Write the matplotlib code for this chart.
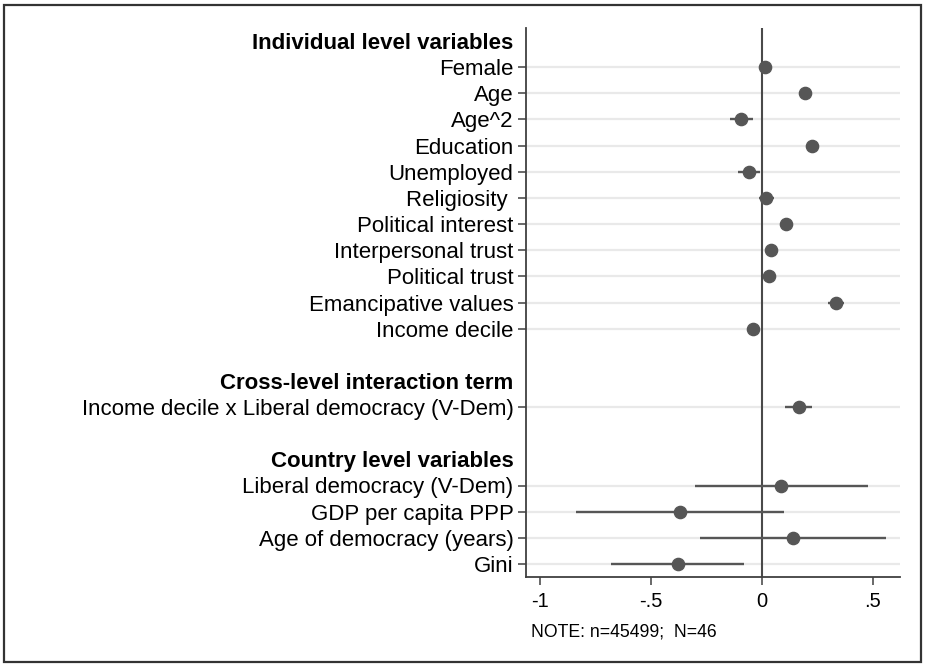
import matplotlib
matplotlib.use("Agg")
import matplotlib.pyplot as plt
from matplotlib.patches import Rectangle
import matplotlib.transforms as mtransforms

plt.rcParams['font.family'] = ['Liberation Sans', 'DejaVu Sans']

# ---- data ----
headers = ["Individual level variables",
           "Cross-level interaction term",
           "Country level variables"]

individual_labels = ["Female", "Age", "Age^2", "Education", "Unemployed",
                     "Religiosity ", "Political interest", "Interpersonal trust",
                     "Political trust", "Emancipative values", "Income decile"]
individual_coef = [0.013, 0.195, -0.094, 0.227, -0.059, 0.018, 0.108, 0.039, 0.033, 0.335, -0.041]
individual_lo = [-0.005, 0.170, -0.146, 0.202, -0.108, -0.015, 0.088, 0.020, 0.014, 0.299, -0.060]
individual_hi = [0.031, 0.220, -0.041, 0.252, -0.008, 0.055, 0.128, 0.058, 0.052, 0.371, -0.022]

cross_labels = ["Income decile x Liberal democracy (V-Dem)"]
cross_coef = [0.167]
cross_lo = [0.104]
cross_hi = [0.227]

country_labels = ["Liberal democracy (V-Dem)", "GDP per capita PPP",
                  "Age of democracy (years)", "Gini"]
country_coef = [0.088, -0.369, 0.139, -0.378]
country_lo = [-0.300, -0.839, -0.279, -0.680]
country_hi = [0.479, 0.098, 0.558, -0.081]

xtick_values = [-1, -0.5, 0, 0.5]
xtick_labels = ["-1", "-.5", "0", ".5"]
note = "NOTE: n=45499;  N=46"

groups = [
    (headers[0], individual_labels, individual_coef, individual_lo, individual_hi),
    (headers[1], cross_labels, cross_coef, cross_lo, cross_hi),
    (headers[2], country_labels, country_coef, country_lo, country_hi),
]

# ---- build rows ----
tick_pos, tick_lab, is_header = [], [], []
pts_y, pts_x, pts_lo, pts_hi = [], [], [], []
row = 0
for gi, (h, labs, c, lo, hi) in enumerate(groups):
    if gi > 0:
        row += 1  # blank spacer row
    tick_pos.append(row); tick_lab.append(h); is_header.append(True)
    row += 1
    for l, cv, lv, hv in zip(labs, c, lo, hi):
        tick_pos.append(row); tick_lab.append(l); is_header.append(False)
        pts_y.append(row); pts_x.append(cv); pts_lo.append(lv); pts_hi.append(hv)
        row += 1
nrows = row

W, H = 925, 664
fig = plt.figure(figsize=(W / 100, H / 100), dpi=100)
ax = fig.add_axes([526 / W, 1 - 577 / H, (900 - 526) / W, (577 - 28) / H])

dark = "#565656"
for y in pts_y:
    ax.axhline(y, color="#e9e9e9", lw=1.6, zorder=0)
ax.axvline(0, color="#4a4a4a", lw=1.5, zorder=1)
ax.hlines(pts_y, pts_lo, pts_hi, color=dark, lw=1.7, zorder=2)
ax.plot(pts_x, pts_y, 'o', color=dark, ms=8.8, mec=dark, zorder=3)

ax.set_ylim(nrows - 0.5, -0.5)
ax.set_xlim(-1.063, 0.622)
ax.set_yticks(tick_pos)
ax.set_yticklabels(tick_lab, fontsize=16)
for t, hflag in zip(ax.yaxis.get_major_ticks(), is_header):
    if hflag:
        t.tick1line.set_visible(False)
        t.label1.set_fontweight("bold")
ax.set_xticks(xtick_values)
ax.set_xticklabels(xtick_labels, fontsize=14.5)
ax.tick_params(axis="y", length=6, width=1.1, pad=3, color="#404040")
ax.tick_params(axis="x", length=6, width=1.1, pad=5, color="#404040")

for s in ["top", "right"]:
    ax.spines[s].set_visible(False)
for s in ["left", "bottom"]:
    ax.spines[s].set_color("#404040")
    ax.spines[s].set_linewidth(1.3)

fig.text(531 / W, 1 - 632 / H, note, fontsize=12.7, ha="left", va="center")

fig.patches.append(Rectangle((3.5 / W, 1 - 662 / H), (921 - 3.5) / W, (662 - 4.5) / H,
                             transform=fig.transFigure, fill=False,
                             edgecolor="#333333", lw=1.6))

fig.savefig("out.png", dpi=100)
